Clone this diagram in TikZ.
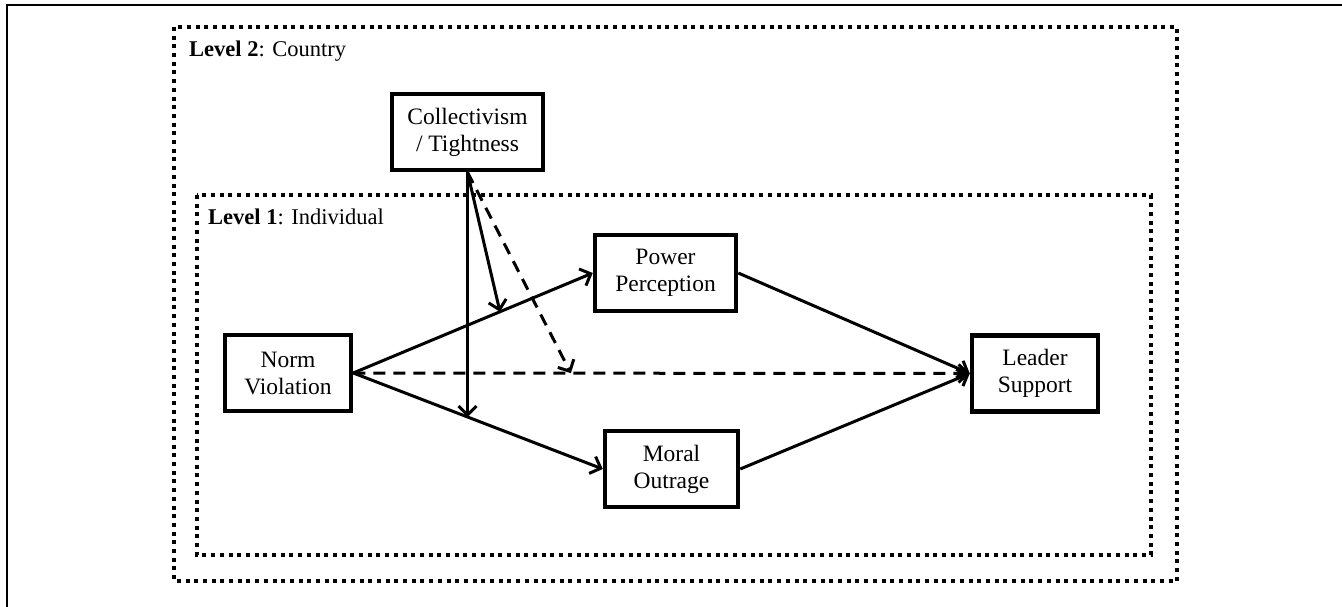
\documentclass[tikz,border=0pt]{standalone}
\usepackage{fontspec}
\setmainfont{Liberation Serif}
\usetikzlibrary{arrows.meta,calc}
\begin{document}
\begin{tikzpicture}[x=1pt,y=-1pt,
  box/.style={draw, line width=4.5pt, minimum height=76pt, align=center, inner sep=0pt, font=\fontsize{23.5}{27}\selectfont},
  arr/.style={line width=3pt, -{Straight Barb[length=9pt,width=18pt]}},
  dsh/.style={arr, dash pattern=on 12pt off 8pt},
  lvl/.style={draw, line width=4pt, dash pattern=on 4pt off 4.7pt},
  lbl/.style={anchor=base west, font=\fontsize{22.5}{26}\selectfont, inner sep=0pt},
  frm/.style={draw, line width=1.8pt}
]
\useasboundingbox (0,0) rectangle (1342,607);
% figure frame (partial)
\coordinate (f1) at (1342,5);
\coordinate (f2) at (7,5);
\coordinate (f3) at (7,607);
\draw[frm] (f1) -- (f2) -- (f3);
% level boxes
\draw[lvl] (174,27) rectangle (1177,581);
\draw[lvl] (197,195) rectangle (1151,555);
\node[lbl] (l2) at (189,57) {\textbf{Level 2}: Country};
\node[lbl] (l1) at (208,225) {\textbf{Level 1}: Individual};
% nodes
\node[box, minimum width=151pt] (coll) at (467.5,132) {Collectivism\\/ Tightness};
\node[box, minimum width=126pt] (nv) at (288,373) {Norm\\Violation};
\node[box, minimum width=141pt] (pp) at (665.5,273) {Power\\Perception};
\node[box, minimum width=133pt] (mo) at (671.5,469) {Moral\\Outrage};
\node[box, minimum width=126pt] (ls) at (1035,373.5) {Leader\\Support};
% main paths
\draw[arr] (nv.east) -- (pp.west);
\draw[arr] (nv.east) -- (mo.west);
\draw[dsh] (nv.east) -- (ls.west);
\draw[arr] (pp.east) -- (ls.west);
\draw[arr] (mo.east) -- (ls.west);
% moderation
\coordinate (m1) at ($(nv.east)!0.46!(mo.west)$);
\coordinate (m2) at ($(nv.east)!0.6125!(pp.west)$);
\coordinate (m3) at ($(nv.east)!0.353!(ls.west)$);
\draw[arr] (coll.south) -- (coll.south |- m1);
\draw[arr] (coll.south) -- (m2);
\draw[dsh] (coll.south) -- (m3);
\end{tikzpicture}
\end{document}
